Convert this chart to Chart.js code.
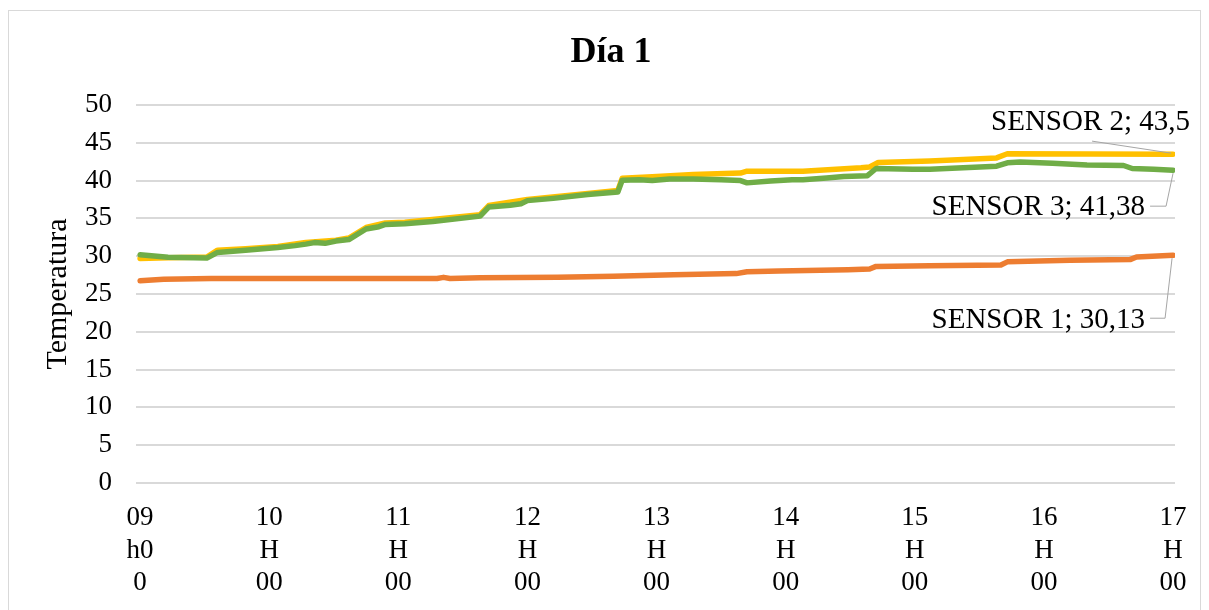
<!DOCTYPE html>
<html>
<head>
<meta charset="utf-8">
<script src="https://cdn.jsdelivr.net/npm/chart.js@4/dist/chart.umd.min.js"></script>
<style>
  html, body { margin: 0; padding: 0; background: #ffffff; }
  #wrap { width: 1209px; height: 610px; position: relative; }
</style>
</head>
<body>
<div id="wrap"><canvas id="chart" width="1209" height="610"></canvas></div>
<script>
// Readings of the three sensors (time of reading, temperature in °C)
const seriesNames = ['SENSOR 1', 'SENSOR 2', 'SENSOR 3'];

const sensor1Times = ['09:00','09:11','09:33','11:18','11:21','11:24','11:38','12:14','12:40','13:08','13:37','13:42','13:57','14:29','14:39','14:42','15:07','15:40','15:43','16:12','16:40','16:43','17:00'];
const sensor1Temps = [26.75, 26.95, 27.05, 27.05, 27.2, 27.05, 27.15, 27.2, 27.35, 27.55, 27.7, 27.95, 28.05, 28.2, 28.3, 28.65, 28.75, 28.85, 29.25, 29.45, 29.55, 29.9, 30.13];

const sensor2Times = ['09:00','09:13','09:31','09:36','09:49','10:04','10:17','10:31','10:37','10:45','10:54','11:03','11:38','11:42','12:00','12:28','12:42','12:44','12:58','13:17','13:39','13:42','14:08','14:35','14:39','14:43','15:07','15:38','15:43','17:00'];
const sensor2Temps = [29.7, 29.8, 29.9, 30.8, 31.0, 31.3, 31.8, 32.1, 32.4, 33.8, 34.4, 34.5, 35.5, 36.7, 37.5, 38.3, 38.7, 40.3, 40.5, 40.8, 41.0, 41.25, 41.25, 41.7, 41.8, 42.4, 42.6, 43.0, 43.55, 43.5];

const sensor3Times = ['09:00','09:13','09:31','09:36','09:49','10:04','10:12','10:17','10:21','10:26','10:31','10:37','10:45','10:51','10:54','11:03','11:16','11:38','11:42','11:52','11:57','12:00','12:12','12:28','12:42','12:44','12:52','12:58','13:06','13:17','13:30','13:39','13:42','13:53','14:03','14:08','14:19','14:27','14:38','14:42','14:59','15:07','15:38','15:43','15:49','16:04','16:20','16:37','16:41','16:51','17:00'];
const sensor3Temps = [30.2, 29.85, 29.75, 30.5, 30.8, 31.15, 31.4, 31.6, 31.8, 31.7, 32.0, 32.2, 33.6, 33.9, 34.2, 34.3, 34.6, 35.3, 36.5, 36.75, 36.95, 37.35, 37.65, 38.15, 38.5, 40.05, 40.1, 40.0, 40.2, 40.2, 40.1, 40.0, 39.7, 39.95, 40.1, 40.1, 40.35, 40.55, 40.65, 41.6, 41.5, 41.5, 41.9, 42.35, 42.45, 42.3, 42.05, 42.0, 41.6, 41.5, 41.38];

// Hour marks on the time axis (minutes after 09:00) and their stacked labels
const hourMarks = [0, 60, 120, 180, 240, 300, 360, 420, 480];
const hourLabels = [
  ['09', 'h0', '0'],
  ['10', 'H', '00'],
  ['11', 'H', '00'],
  ['12', 'H', '00'],
  ['13', 'H', '00'],
  ['14', 'H', '00'],
  ['15', 'H', '00'],
  ['16', 'H', '00'],
  ['17', 'H', '00']
];

const yTicks = { min: 0, max: 50, step: 5 };
const yTitle = 'Temperatura';
const chartTitle = 'Día 1';

function toMinutes(t) {
  const [h, m] = t.split(':').map(Number);
  return (h - 9) * 60 + m;
}
function toPoints(times, temps) {
  return times.map((t, i) => ({ x: toMinutes(t), y: temps[i] }));
}
function decimalComma(v) {
  return String(v).replace('.', ',');
}

const FONT = "'Liberation Serif', 'Times New Roman', serif";
const colors = ['#ED7D31', '#FFC000', '#70AD47'];

// Where each end-of-line label sits relative to its last point, plus its leader line
const labelLayout = [
  { dx: -28, dy: 65, leader: [[-23, 63], [-8, 63], [-1, 3]] },
  { dx: 17, dy: -32, leader: [[-81, -13], [-2, -1]] },
  { dx: -28, dy: 37, leader: [[-23, 36], [-7, 36], [0, 3]] }
];

const framePlugin = {
  id: 'frame',
  beforeDraw(chart) {
    const ctx = chart.ctx;
    ctx.save();
    ctx.fillStyle = '#ffffff';
    ctx.fillRect(0, 0, chart.width, chart.height);
    ctx.strokeStyle = '#d9d9d9';
    ctx.lineWidth = 1;
    ctx.strokeRect(8.5, 10.5, 1192, 640);
    // chart heading
    ctx.fillStyle = '#000000';
    ctx.font = 'bold 36px ' + FONT;
    ctx.textAlign = 'center';
    ctx.textBaseline = 'middle';
    ctx.fillText(chartTitle, 611, 53);
    ctx.restore();
  }
};

const endLabelPlugin = {
  id: 'endLabels',
  afterDatasetsDraw(chart) {
    const ctx = chart.ctx;
    ctx.save();
    chart.data.datasets.forEach((ds, i) => {
      const meta = chart.getDatasetMeta(i);
      const last = meta.data[meta.data.length - 1];
      const px = last.x, py = last.y;
      const lay = labelLayout[i];
      ctx.strokeStyle = '#a6a6a6';
      ctx.lineWidth = 1;
      ctx.beginPath();
      lay.leader.forEach((p, k) => {
        const X = px + p[0], Y = py + p[1];
        if (k === 0) ctx.moveTo(X, Y); else ctx.lineTo(X, Y);
      });
      ctx.stroke();
      ctx.fillStyle = '#000000';
      ctx.font = '29px ' + FONT;
      ctx.textAlign = 'right';
      ctx.textBaseline = 'middle';
      const v = ds.data[ds.data.length - 1].y;
      ctx.fillText(ds.label + '; ' + decimalComma(v), px + lay.dx, py + lay.dy);
    });
    ctx.restore();
  }
};

new Chart(document.getElementById('chart'), {
  type: 'line',
  data: {
    datasets: [
      { label: seriesNames[0], data: toPoints(sensor1Times, sensor1Temps) },
      { label: seriesNames[1], data: toPoints(sensor2Times, sensor2Temps) },
      { label: seriesNames[2], data: toPoints(sensor3Times, sensor3Temps) }
    ].map((d, i) => Object.assign(d, {
      borderColor: colors[i],
      backgroundColor: colors[i],
      borderWidth: 5.5,
      borderCapStyle: 'round',
      borderJoinStyle: 'round',
      pointRadius: 0,
      tension: 0,
      fill: false,
      order: 3 - i
    }))
  },
  options: {
    responsive: false,
    animation: false,
    layout: { padding: { left: 0, right: 34, top: 105, bottom: 0 } },
    plugins: {
      legend: { display: false },
      tooltip: { enabled: false },
      title: { display: false }
    },
    scales: {
      x: {
        type: 'linear',
        min: -1.9,
        max: 480.9,
        afterBuildTicks(scale) {
          scale.ticks = hourMarks.map(v => ({ value: v }));
        },
        afterFit(scale) { scale.height = 127; },
        grid: { display: false, drawTicks: false },
        border: { display: false },
        ticks: {
          autoSkip: false,
          maxRotation: 0,
          padding: 19,
          color: '#000000',
          font: { family: FONT, size: 27 },
          callback(value, index) { return hourLabels[index]; }
        }
      },
      y: {
        min: yTicks.min,
        max: yTicks.max,
        afterFit(scale) { scale.width = 136; },
        grid: { color: '#d9d9d9', lineWidth: 2, drawTicks: false },
        border: { display: false },
        ticks: {
          stepSize: yTicks.step,
          padding: 24,
          color: '#000000',
          font: { family: FONT, size: 27 }
        },
        title: {
          display: true,
          text: yTitle,
          color: '#000000',
          font: { family: FONT, size: 30 },
          padding: { top: 40, bottom: 0 }
        }
      }
    }
  },
  plugins: [framePlugin, endLabelPlugin]
});
</script>
</body>
</html>
